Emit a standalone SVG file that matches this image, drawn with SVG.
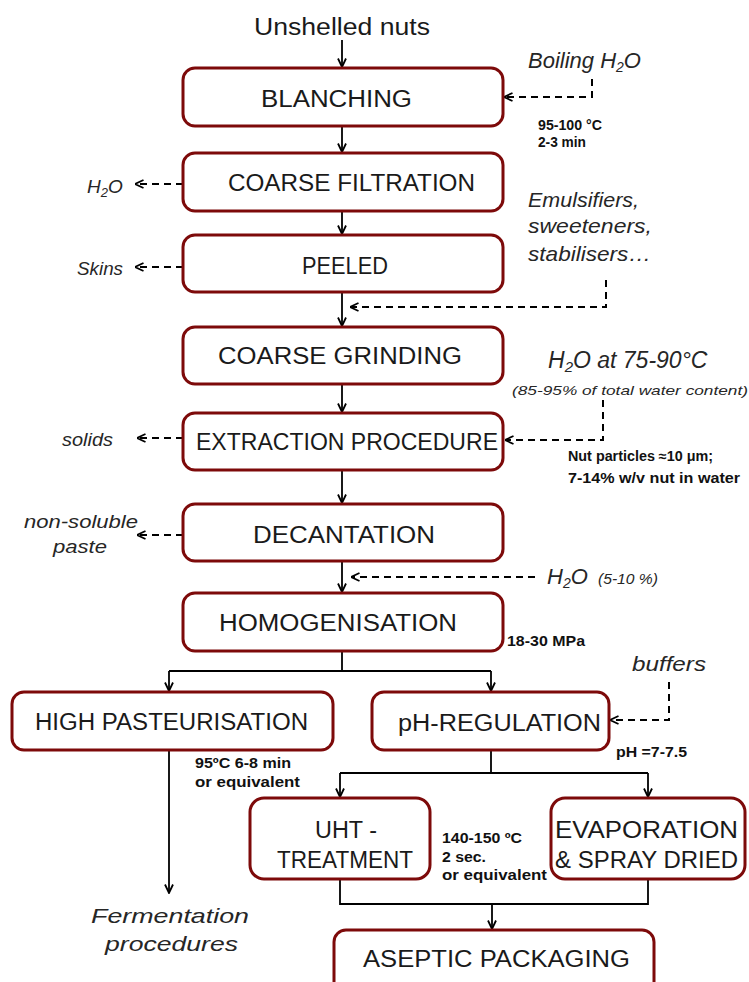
<svg xmlns="http://www.w3.org/2000/svg" width="749" height="982" viewBox="0 0 749 982">
<style>
.box{fill:#fff;stroke:#7d0a0a;stroke-width:3}
.lbl{font-family:"Liberation Sans",Arial,sans-serif;font-size:23px;fill:#1a1a1a}
.it{font-family:"Liberation Sans",Arial,sans-serif;font-style:italic;fill:#262626}
.note{font-family:"Liberation Sans",Arial,sans-serif;font-weight:bold;font-size:14px;fill:#111}
.ln{fill:none;stroke:#000;stroke-width:1.8}
.ds{fill:none;stroke:#000;stroke-width:2;stroke-dasharray:7 5}
</style>
<defs>
<marker id="ah" viewBox="0 0 10 10" refX="9.5" refY="5" markerWidth="10" markerHeight="10" markerUnits="userSpaceOnUse" orient="auto">
<path d="M1,1 L9.5,5 L1,9" fill="none" stroke="#000" stroke-width="1.8"/>
</marker>
</defs>

<g id="connectors">
<path class="ln" d="M342,40 V67" marker-end="url(#ah)"/>
<path class="ln" d="M342,126 V152" marker-end="url(#ah)"/>
<path class="ln" d="M342,211 V234" marker-end="url(#ah)"/>
<path class="ln" d="M342,292 V326" marker-end="url(#ah)"/>
<path class="ln" d="M342,384 V412" marker-end="url(#ah)"/>
<path class="ln" d="M342,470 V503" marker-end="url(#ah)"/>
<path class="ln" d="M342,561 V592" marker-end="url(#ah)"/>
<path class="ln" d="M342,651 V671 M169,671 H491"/>
<path class="ln" d="M169,671 V691" marker-end="url(#ah)"/>
<path class="ln" d="M491,671 V691" marker-end="url(#ah)"/>
<path class="ln" d="M169,750 V893" marker-end="url(#ah)"/>
<path class="ln" d="M491,750 V773 M340,773 H648"/>
<path class="ln" d="M340,773 V797" marker-end="url(#ah)"/>
<path class="ln" d="M648,773 V797" marker-end="url(#ah)"/>
<path class="ln" d="M340,879 V904 H648 V879"/>
<path class="ln" d="M492,904 V929" marker-end="url(#ah)"/>

<path class="ds" d="M592,79 V97 H504" marker-end="url(#ah)"/>
<path class="ds" d="M183,184 H135" marker-end="url(#ah)"/>
<path class="ds" d="M183,267 H135" marker-end="url(#ah)"/>
<path class="ds" d="M606,280 V307 H350" marker-end="url(#ah)"/>
<path class="ds" d="M603,400 V440 H505" marker-end="url(#ah)"/>
<path class="ds" d="M183,438 H137" marker-end="url(#ah)"/>
<path class="ds" d="M183,535 H137" marker-end="url(#ah)"/>
<path class="ds" d="M535,577 H351" marker-end="url(#ah)"/>
<path class="ds" d="M669,682 V720 H610" marker-end="url(#ah)"/>
</g>

<g id="input">
<text class="lbl" x="254" y="35" font-size="24" textLength="176" lengthAdjust="spacingAndGlyphs">Unshelled nuts</text>
</g>

<g id="blanching">
<rect class="box" x="183" y="68" width="320" height="58" rx="12"/>
<text class="lbl" x="261" y="107" textLength="151" lengthAdjust="spacingAndGlyphs">BLANCHING</text>
</g>
<g id="coarse-filtration">
<rect class="box" x="183" y="153" width="320" height="58" rx="12"/>
<text class="lbl" x="228" y="191" textLength="247" lengthAdjust="spacingAndGlyphs">COARSE FILTRATION</text>
</g>
<g id="peeled">
<rect class="box" x="183" y="235" width="320" height="57" rx="12"/>
<text class="lbl" x="302" y="274" textLength="86" lengthAdjust="spacingAndGlyphs">PEELED</text>
</g>
<g id="coarse-grinding">
<rect class="box" x="183" y="327" width="320" height="57" rx="12"/>
<text class="lbl" x="218" y="364" textLength="244" lengthAdjust="spacingAndGlyphs">COARSE GRINDING</text>
</g>
<g id="extraction">
<rect class="box" x="183" y="413" width="320" height="57" rx="12"/>
<text class="lbl" x="196" y="450" textLength="302" lengthAdjust="spacingAndGlyphs">EXTRACTION PROCEDURE</text>
</g>
<g id="decantation">
<rect class="box" x="183" y="504" width="320" height="57" rx="12"/>
<text class="lbl" x="253" y="543" textLength="182" lengthAdjust="spacingAndGlyphs">DECANTATION</text>
</g>
<g id="homogenisation">
<rect class="box" x="183" y="593" width="320" height="58" rx="12"/>
<text class="lbl" x="219" y="631" textLength="238" lengthAdjust="spacingAndGlyphs">HOMOGENISATION</text>
</g>
<g id="high-pasteurisation">
<rect class="box" x="12" y="692" width="321" height="58" rx="12"/>
<text class="lbl" x="35" y="730" textLength="273" lengthAdjust="spacingAndGlyphs">HIGH PASTEURISATION</text>
</g>
<g id="ph-regulation">
<rect class="box" x="372" y="692" width="237" height="58" rx="12"/>
<text class="lbl" x="398" y="731" textLength="203" lengthAdjust="spacingAndGlyphs">pH-REGULATION</text>
</g>
<g id="uht">
<rect class="box" x="250" y="798" width="180" height="81" rx="14"/>
<text class="lbl" x="315" y="838" textLength="62" lengthAdjust="spacingAndGlyphs">UHT -</text>
<text class="lbl" x="277" y="868" textLength="136" lengthAdjust="spacingAndGlyphs">TREATMENT</text>
</g>
<g id="evaporation">
<rect class="box" x="551" y="798" width="194" height="81" rx="14"/>
<text class="lbl" x="555" y="838" textLength="183" lengthAdjust="spacingAndGlyphs">EVAPORATION</text>
<text class="lbl" x="555" y="868" textLength="183" lengthAdjust="spacingAndGlyphs">&amp; SPRAY DRIED</text>
</g>
<g id="aseptic-packaging">
<rect class="box" x="334" y="930" width="320" height="70" rx="12"/>
<text class="lbl" x="363" y="967" textLength="267" lengthAdjust="spacingAndGlyphs">ASEPTIC PACKAGING</text>
</g>

<g id="side-labels">
<text class="it" x="528" y="68" font-size="22">Boiling H<tspan font-size="14" dy="4">2</tspan><tspan dy="-4">O</tspan></text>
<text class="it" x="87" y="193" font-size="19">H<tspan font-size="13" dy="4">2</tspan><tspan dy="-4">O</tspan></text>
<text class="it" x="77" y="275" font-size="18" textLength="46" lengthAdjust="spacingAndGlyphs">Skins</text>
<text class="it" x="528" y="207" font-size="21" textLength="111" lengthAdjust="spacingAndGlyphs">Emulsifiers,</text>
<text class="it" x="528" y="233" font-size="21" textLength="124" lengthAdjust="spacingAndGlyphs">sweeteners,</text>
<text class="it" x="528" y="261" font-size="21" textLength="123" lengthAdjust="spacingAndGlyphs">stabilisers…</text>
<text class="it" x="548" y="368" font-size="23">H<tspan font-size="15" dy="4">2</tspan><tspan dy="-4">O at 75-90°C</tspan></text>
<text class="it" x="512" y="395" font-size="13.5" textLength="236" lengthAdjust="spacingAndGlyphs">(85-95% of total water content)</text>
<text class="it" x="62" y="446" font-size="18" textLength="51" lengthAdjust="spacingAndGlyphs">solids</text>
<text class="it" x="24" y="528" font-size="18" textLength="114" lengthAdjust="spacingAndGlyphs">non-soluble</text>
<text class="it" x="53" y="553" font-size="18" textLength="54" lengthAdjust="spacingAndGlyphs">paste</text>
<text class="it" x="547" y="584" font-size="22">H<tspan font-size="14" dy="4">2</tspan><tspan dy="-4">O</tspan></text>
<text class="it" x="598" y="584" font-size="14" textLength="60" lengthAdjust="spacingAndGlyphs">(5-10 %)</text>
<text class="it" x="632" y="671" font-size="21" textLength="74" lengthAdjust="spacingAndGlyphs">buffers</text>
<text class="it" x="91" y="923" font-size="21" textLength="158" lengthAdjust="spacingAndGlyphs">Fermentation</text>
<text class="it" x="105" y="951" font-size="21" textLength="133" lengthAdjust="spacingAndGlyphs">procedures</text>
</g>

<g id="notes">
<text class="note" x="538" y="130" textLength="64" lengthAdjust="spacingAndGlyphs">95-100 °C</text>
<text class="note" x="538" y="147" textLength="48" lengthAdjust="spacingAndGlyphs">2-3 min</text>
<text class="note" x="568" y="461" font-size="13.5" textLength="145" lengthAdjust="spacingAndGlyphs">Nut particles ≈10 μm;</text>
<text class="note" x="568" y="483" font-size="15" textLength="172" lengthAdjust="spacingAndGlyphs">7-14% w/v nut in water</text>
<text class="note" x="507" y="646" textLength="78" lengthAdjust="spacingAndGlyphs">18-30 MPa</text>
<text class="note" x="616" y="757" textLength="71" lengthAdjust="spacingAndGlyphs">pH =7-7.5</text>
<text class="note" x="195" y="768" textLength="96" lengthAdjust="spacingAndGlyphs">95ºC 6-8 min</text>
<text class="note" x="195" y="787" textLength="105" lengthAdjust="spacingAndGlyphs">or equivalent</text>
<text class="note" x="442" y="843" textLength="80" lengthAdjust="spacingAndGlyphs">140-150 ºC</text>
<text class="note" x="442" y="862" textLength="44" lengthAdjust="spacingAndGlyphs">2 sec.</text>
<text class="note" x="442" y="880" textLength="105" lengthAdjust="spacingAndGlyphs">or equivalent</text>
</g>
</svg>
